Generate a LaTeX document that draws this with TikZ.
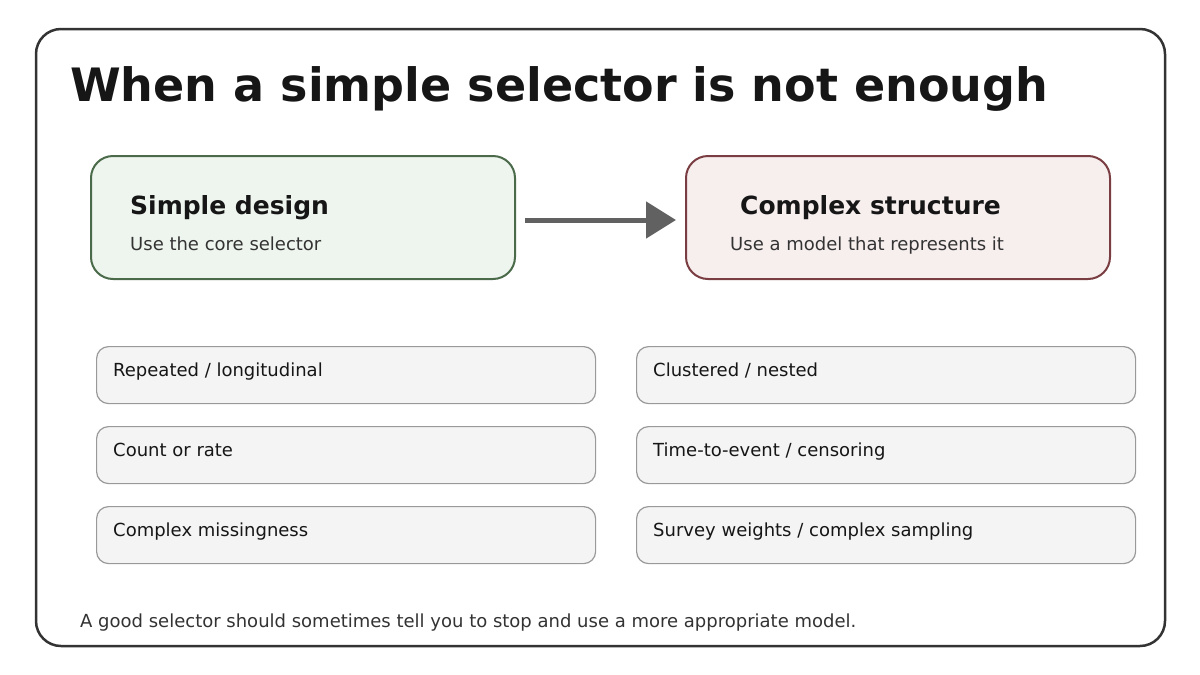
\documentclass[tikz,border=0pt]{standalone}
\usepackage{fontspec}
\setmainfont{DejaVu Sans}
\usetikzlibrary{arrows.meta}
\definecolor{frame}{HTML}{333333}
\definecolor{gfill}{HTML}{EEF5EE}\definecolor{gline}{HTML}{4A6A4A}
\definecolor{rfill}{HTML}{F7EEEE}\definecolor{rline}{HTML}{7A3E42}
\definecolor{sfill}{HTML}{F4F4F4}\definecolor{sline}{HTML}{999999}
\definecolor{txt}{HTML}{161616}
\begin{document}
\begin{tikzpicture}[x=1pt,y=-1pt,
  big/.style={rounded corners=22pt,line width=2pt},
  small/.style={draw=sline,fill=sfill,rounded corners=12pt,line width=1.2pt,minimum width=499pt,minimum height=57pt,anchor=north west},
  lbl/.style={anchor=base west,inner sep=0,text=txt,font=\fontsize{18}{20}\selectfont},
  head/.style={anchor=base west,inner sep=0,text=txt,font=\fontsize{25}{28}\selectfont\bfseries},
  sub/.style={anchor=base west,inner sep=0,text=frame,font=\fontsize{18}{20}\selectfont}]
\useasboundingbox (0,0) rectangle (1200,675);
\draw[frame,line width=2.5pt,rounded corners=25pt,fill=white] (36,29) rectangle (1165,646);
\node[anchor=base west,inner sep=0,text=txt,font=\fontsize{46}{52}\selectfont\bfseries] (title) at (70,101) {When a simple selector is not enough};
\draw[big,draw=gline,fill=gfill] (91,156) rectangle (515,279);
\coordinate (gR) at (525,220);
\draw[big,draw=rline,fill=rfill] (686,156) rectangle (1110,279);
\coordinate (rL) at (676,220);
\node[head] (h1) at (130,214) {Simple design};
\node[sub] (s1) at (130,250) {Use the core selector};
\node[head] (h2) at (740,214) {Complex structure};
\node[sub] (s2) at (730,250) {Use a model that represents it};
\draw[line width=5pt,color=black!62,-{Triangle[length=30pt,width=36pt]}] (gR) -- (rL);
\foreach \y/\a/\b [count=\i] in {346/Repeated \slash{} longitudinal/Clustered \slash{} nested,
  426/Count or rate/Time-to-event \slash{} censoring,
  506/Complex missingness/Survey weights \slash{} complex sampling}{
  \node[small] (l\i) at (96,\y) {};
  \node[small] (r\i) at (636,\y) {};
  \node[lbl] at (113,\y+30) {\a};
  \node[lbl] at (653,\y+30) {\b};
}
\node[anchor=base west,inner sep=0,text=frame,font=\fontsize{18}{20}\selectfont] (foot) at (80,627) {A good selector should sometimes tell you to stop and use a more appropriate model.};
\end{tikzpicture}
\end{document}
